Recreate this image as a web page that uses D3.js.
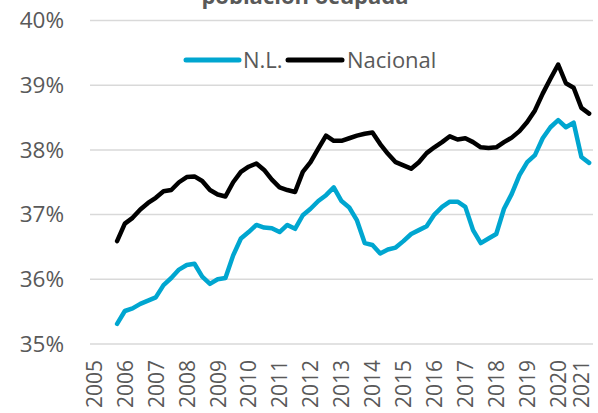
<!DOCTYPE html>
<html><head><meta charset="utf-8">
<script src="https://cdn.jsdelivr.net/npm/d3@7"></script>
<style>html,body{margin:0;padding:0;background:#fff;overflow:hidden}</style>
</head><body>
<svg id="chart" width="598" height="413"></svg>
<script>
const quarters = [
"2005T1","2005T2","2005T3","2005T4","2006T1","2006T2","2006T3","2006T4",
"2007T1","2007T2","2007T3","2007T4","2008T1","2008T2","2008T3","2008T4",
"2009T1","2009T2","2009T3","2009T4","2010T1","2010T2","2010T3","2010T4",
"2011T1","2011T2","2011T3","2011T4","2012T1","2012T2","2012T3","2012T4",
"2013T1","2013T2","2013T3","2013T4","2014T1","2014T2","2014T3","2014T4",
"2015T1","2015T2","2015T3","2015T4","2016T1","2016T2","2016T3","2016T4",
"2017T1","2017T2","2017T3","2017T4","2018T1","2018T2","2018T3","2018T4",
"2019T1","2019T2","2019T3","2019T4","2020T1","2020T3","2020T4",
"2021T1","2021T2"];
const tickQuarters = ["2005T1","2006T1","2007T1","2008T1","2009T1","2010T1","2011T1","2012T1","2013T1","2014T1","2015T1","2016T1","2017T1","2018T1","2019T1","2020T1","2021T1"];
const tickYears = ["2005","2006","2007","2008","2009","2010","2011","2012","2013","2014","2015","2016","2017","2018","2019","2020","2021"];
const yTicks = [35,36,37,38,39,40];
const seriesNames = ["N.L.","Nacional"];
const nlValues = [null,null,null,
35.31,35.51,35.55,35.62,35.67,35.72,35.91,36.02,36.15,36.22,36.24,36.04,35.93,36.00,36.02,36.37,
36.63,36.73,36.84,36.80,36.79,36.73,36.84,36.78,36.99,37.09,37.21,37.30,37.42,37.21,37.11,36.91,
36.56,36.53,36.40,36.46,36.49,36.59,36.70,36.76,36.82,37.00,37.12,37.20,37.20,37.12,36.76,36.56,
36.63,36.70,37.09,37.32,37.61,37.81,37.92,38.18,38.35,38.46,38.35,38.42,37.89,37.80];
const nacionalValues = [null,null,null,
36.59,36.86,36.95,37.08,37.18,37.26,37.36,37.38,37.50,37.58,37.59,37.52,37.38,37.31,37.28,37.50,
37.66,37.74,37.79,37.69,37.54,37.42,37.38,37.35,37.66,37.81,38.02,38.22,38.14,38.14,38.18,38.22,
38.25,38.27,38.09,37.94,37.81,37.76,37.71,37.81,37.95,38.04,38.12,38.21,38.16,38.18,38.12,38.04,
38.03,38.04,38.12,38.19,38.29,38.43,38.61,38.87,39.10,39.32,39.03,38.96,38.65,38.56];
const titleText = "población ocupada";

const svg = d3.select("#chart");
const FONT = "'Open Sans', 'Noto Sans', sans-serif";
const textColor = "#595959";
const colors = {"N.L.":"#00A6D0","Nacional":"#000000"};

const x = d3.scalePoint().domain(quarters).range([90, 593]).padding(0.5);
const y = d3.scaleLinear().domain([35,40]).range([344, 20.5]);

// title (mostly cut off at top, as in the source)
svg.append("text").attr("x", 305).attr("y", 4).attr("text-anchor","middle")
  .attr("font-family", FONT).attr("font-weight","bold").attr("font-size", 22)
  .attr("fill", textColor).text(titleText);

// grid
svg.append("g").selectAll("line").data(yTicks).join("line")
  .attr("x1", 90).attr("x2", 593)
  .attr("y1", d => y(d)).attr("y2", d => y(d))
  .attr("stroke", "#D9D9D9").attr("stroke-width", 1.5);

// y labels
const yAxis = d3.axisLeft(y).tickValues(yTicks).tickFormat(d => d + "%").tickSize(0).tickPadding(0);
const yg = svg.append("g").attr("transform","translate(64,0)").call(yAxis);
yg.select(".domain").remove();
yg.selectAll("text").attr("font-family", FONT).attr("font-size", 22.5).attr("fill", textColor);

// x labels
const xAxis = d3.axisBottom(x).tickValues(tickQuarters)
  .tickFormat(d => tickYears[tickQuarters.indexOf(d)]).tickSize(0).tickPadding(0);
const xg = svg.append("g").attr("transform","translate(0,360)").call(xAxis);
xg.select(".domain").remove();
xg.selectAll("text").attr("font-family", FONT).attr("font-size", 21).attr("fill", textColor)
  .attr("text-anchor","end").attr("transform","rotate(-90)").attr("x", 0).attr("y", 0).attr("dy","0.35em");

// lines
const series = [
  {name:"Nacional", values: nacionalValues},
  {name:"N.L.", values: nlValues}
];
const line = d3.line().defined(d => d.v !== null).x(d => x(d.q)).y(d => y(d.v));
svg.append("g").selectAll("path").data(series).join("path")
  .attr("d", s => line(quarters.map((q,i) => ({q, v: s.values[i]}))))
  .attr("fill","none").attr("stroke", s => colors[s.name]).attr("stroke-width", 4.5)
  .attr("stroke-linejoin","round").attr("stroke-linecap","round");

// legend
const legendItems = [
  {name:"N.L.", x1:186, x2:239, tx:243},
  {name:"Nacional", x1:288, x2:342, tx:347}
];
const lg = svg.append("g");
legendItems.forEach(it => {
  lg.append("line").attr("x1", it.x1).attr("x2", it.x2).attr("y1", 60).attr("y2", 60)
    .attr("stroke", colors[it.name]).attr("stroke-width", 5).attr("stroke-linecap","round");
  lg.append("text").attr("x", it.tx).attr("y", 60).attr("dy","0.35em")
    .attr("font-family", FONT).attr("font-size", 22).attr("fill", textColor).text(it.name);
});
</script>
</body></html>
